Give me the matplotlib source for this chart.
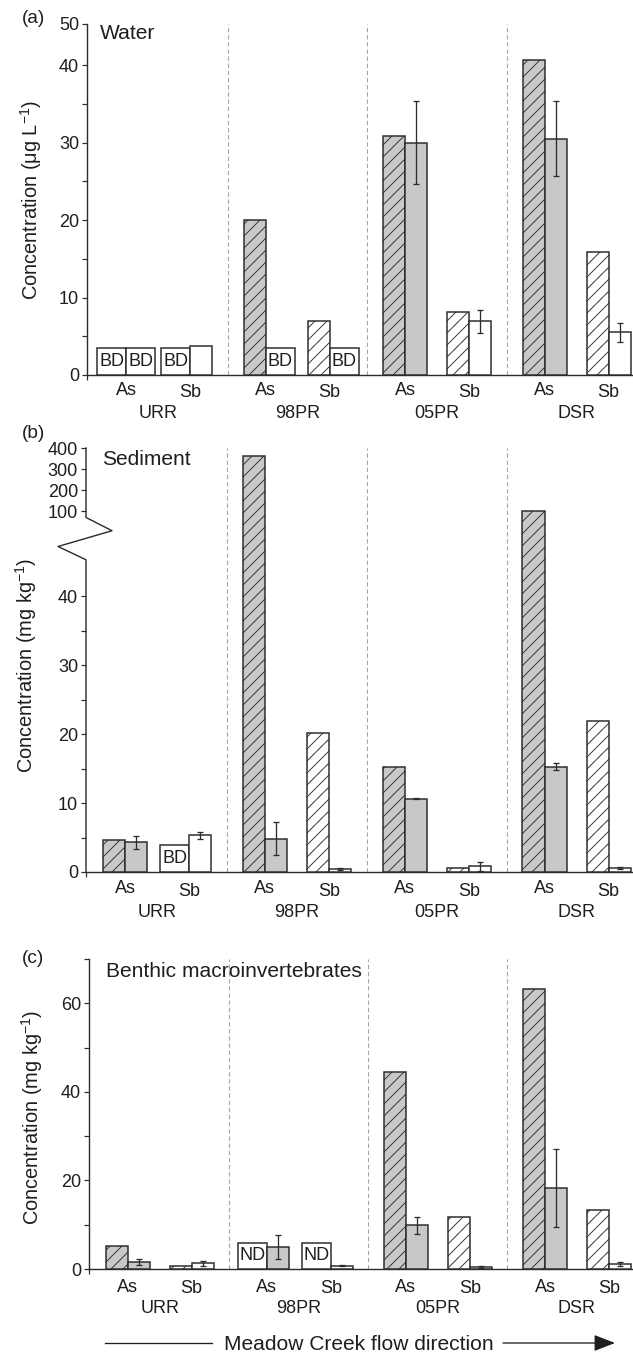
import numpy as np
import matplotlib
matplotlib.use('Agg')
import matplotlib.pyplot as plt
from matplotlib.transforms import offset_copy, blended_transform_factory
from matplotlib.patches import FancyArrowPatch
from matplotlib.lines import Line2D
from matplotlib.ticker import FixedLocator, FixedFormatter

plt.rcParams['font.family'] = ['Liberation Sans', 'DejaVu Sans']
plt.rcParams['mathtext.fontset'] = 'custom'
plt.rcParams['mathtext.rm'] = 'Liberation Sans'
plt.rcParams['mathtext.it'] = 'Liberation Sans:italic'
plt.rcParams['mathtext.bf'] = 'Liberation Sans:bold'
plt.rcParams['hatch.linewidth'] = 0.9
plt.rcParams['hatch.color'] = '#333333'

# ---------------- data ----------------
sites = ['URR', '98PR', '05PR', 'DSR']
elements = ['As', 'Sb']
# order within each list: URR-As, URR-Sb, 98PR-As, 98PR-Sb, 05PR-As, 05PR-Sb, DSR-As, DSR-Sb

water_hatched = [3.45, 3.45, 20.0, 7.0, 30.9, 8.1, 40.6, 15.9]
water_hatched_flag = ['BD', 'BD', '', '', '', '', '', '']
water_solid = [3.45, 3.8, 3.45, 3.45, 30.0, 6.95, 30.5, 5.5]
water_solid_err = [0, 0, 0, 0, 5.3, 1.5, 4.8, 1.2]
water_solid_flag = ['BD', '', 'BD', 'BD', '', '', '', '']

sed_hatched = [4.6, 3.9, 360.0, 20.2, 15.3, 0.58, 103.0, 21.9]
sed_hatched_flag = ['', 'BD', '', '', '', '', '', '']
sed_solid = [4.3, 5.3, 4.8, 0.45, 10.6, 0.8, 15.3, 0.58]
sed_solid_err = [0.95, 0.5, 2.4, 0.12, 0.08, 0.6, 0.45, 0.18]
sed_solid_flag = ['', '', '', '', '', '', '', '']

ben_hatched = [5.1, 0.75, 5.9, 5.9, 44.5, 11.8, 63.2, 13.4]
ben_hatched_flag = ['', '', 'ND', 'ND', '', '', '', '']
ben_solid = [1.6, 1.3, 5.0, 0.75, 9.9, 0.45, 18.2, 1.1]
ben_solid_err = [0.7, 0.55, 2.75, 0.15, 1.9, 0.15, 8.8, 0.5]
ben_solid_flag = ['', '', '', '', '', '', '', '']

water_ticks = [0, 10, 20, 30, 40, 45.3]
water_ticklabels = ['0', '10', '20', '30', '40', '50']
water_minor = [5, 15, 25, 35]
sed_ticks = [0, 10, 20, 30, 40, 100, 200, 300, 400]
sed_ticklabels = ['0', '10', '20', '30', '40', '100', '200', '300', '400']
sed_minor = [5, 15, 25, 35]
ben_ticks = [0, 20, 40, 60]
ben_ticklabels = ['0', '20', '40', '60']
ben_minor = [10, 30, 50, 70]

# ---------------- style ----------------
W, H, DPI = 633, 1354, 72
GRAY = '#c7c8ca'
EDGE = '#2b2b2b'
TXT = '#1e1e1e'
site_step = 2.18
bar_w = 0.344
box_w = 0.453
XLIM = (-0.61, 7.92)

fig = plt.figure(figsize=(W / DPI, H / DPI), dpi=DPI)


def add_axes_px(left, top, right, bottom):
    return fig.add_axes([left / W, 1 - bottom / H, (right - left) / W, (bottom - top) / H])


def draw_panel(ax, hatched, hflag, solid, serr, sflag, ticks, ticklabels, minor,
               lab_off, flagsize=18):
    as_pos = np.arange(len(sites)) * site_step
    pos = np.ravel(np.column_stack([as_pos, as_pos + 1.0]))
    for k, x in enumerate(pos):
        fill = GRAY if elements[k % 2] == 'As' else 'white'
        # first (hatched) bar, left of position
        if hflag[k]:
            ax.bar(x, hatched[k], width=-box_w, align='edge', color='white',
                   edgecolor=EDGE, lw=1.5, zorder=3)
            ax.text(x - box_w / 2, hatched[k] / 2, hflag[k], ha='center', va='center',
                    fontsize=flagsize, color=TXT, zorder=4)
        else:
            ax.bar(x, hatched[k], width=-bar_w, align='edge', color=fill,
                   edgecolor=EDGE, lw=1.5, hatch='//', zorder=3)
        # second (solid) bar, right of position
        if sflag[k]:
            ax.bar(x, solid[k], width=box_w, align='edge', color='white',
                   edgecolor=EDGE, lw=1.5, zorder=3)
            ax.text(x + box_w / 2, solid[k] / 2, sflag[k], ha='center', va='center',
                    fontsize=flagsize, color=TXT, zorder=4)
        else:
            ax.bar(x, solid[k], width=bar_w, align='edge', color=fill,
                   edgecolor=EDGE, lw=1.5, zorder=3)
            if serr[k] > 0:
                ax.errorbar(x + bar_w / 2, solid[k], yerr=serr[k], fmt='none',
                            ecolor=EDGE, elinewidth=1.3, capsize=3.2, capthick=1.3, zorder=5)
    # dashed separators
    for i in range(len(sites) - 1):
        ax.axvline(as_pos[i] + 1 + (site_step - 1) / 2, color='#a6a6a6', lw=1.1,
                   dashes=(4, 2.5), zorder=1)
    ax.set_xlim(*XLIM)
    for s in ['top', 'right']:
        ax.spines[s].set_visible(False)
    for s in ['left', 'bottom']:
        ax.spines[s].set_color(EDGE)
        ax.spines[s].set_linewidth(1.4)
    ax.yaxis.set_major_locator(FixedLocator(ticks))
    ax.yaxis.set_major_formatter(FixedFormatter(ticklabels))
    ax.yaxis.set_minor_locator(FixedLocator(minor))
    ax.tick_params(axis='y', which='both', direction='out', length=5, width=1.2,
                   color=EDGE, labelsize=18, labelcolor=TXT, pad=3)
    ax.set_xticks([XLIM[0]])
    ax.set_xticklabels([''])
    ax.tick_params(axis='x', which='both', direction='out', length=5, width=1.2, color=EDGE)
    # category labels
    trans = blended_transform_factory(ax.transData, ax.transAxes)
    t_as = offset_copy(trans, fig=fig, x=0, y=-lab_off[0], units='dots')
    t_sb = offset_copy(trans, fig=fig, x=0, y=-lab_off[1], units='dots')
    t_site = offset_copy(trans, fig=fig, x=0, y=-lab_off[2], units='dots')
    for i, s in enumerate(sites):
        ax.text(as_pos[i], 0, elements[0], transform=t_as, ha='center', va='baseline',
                fontsize=18, color=TXT)
        ax.text(as_pos[i] + 1, 0, elements[1], transform=t_sb, ha='center', va='baseline',
                fontsize=18, color=TXT)
        ax.text(as_pos[i] + 0.5, 0, s, transform=t_site, ha='center', va='baseline',
                fontsize=18, color=TXT)


# ---- panel (a) ----
axa = add_axes_px(87, 24, 633, 375)
axa.set_ylim(0, 45.3)
draw_panel(axa, water_hatched, water_hatched_flag, water_solid, water_solid_err,
           water_solid_flag, water_ticks, water_ticklabels, water_minor, (20, 22, 43))

# ---- panel (b) with broken axis via function scale ----
bk_in = [0.0, 45.3, 71.6, 400.0]
bk_out = [0.0, 312.0, 354.3, 423.7]
lo_slope = bk_out[1] / bk_in[1]
hi_slope = (bk_out[3] - bk_out[2]) / (bk_in[3] - bk_in[2])


def fwd(v):
    v = np.asarray(v, dtype=float)
    out = np.interp(v, bk_in, bk_out)
    out = np.where(v < 0, v * lo_slope, out)
    out = np.where(v > bk_in[-1], bk_out[-1] + (v - bk_in[-1]) * hi_slope, out)
    return out


def inv(u):
    u = np.asarray(u, dtype=float)
    out = np.interp(u, bk_out, bk_in)
    out = np.where(u < 0, u / lo_slope, out)
    out = np.where(u > bk_out[-1], bk_in[-1] + (u - bk_out[-1]) / hi_slope, out)
    return out


axb = add_axes_px(86, 448, 633, 872)
axb.set_yscale('function', functions=(fwd, inv))
axb.set_ylim(0, 400)
draw_panel(axb, sed_hatched, sed_hatched_flag, sed_solid, sed_solid_err,
           sed_solid_flag, sed_ticks, sed_ticklabels, sed_minor, (21, 24, 45))
axb.spines['left'].set_visible(False)
top_u = float(fwd(400))
y_lo = float(fwd(bk_in[1])) / top_u
y_hi = float(fwd(bk_in[2])) / top_u
axw = 547.0
zig_x = [0, 0, -28 / axw, 26 / axw, 0, 0]
zig_y = [0, y_lo, y_lo + 13.3 / 424, y_hi - 13.3 / 424, y_hi, 1.0]
axb.add_line(Line2D(zig_x, zig_y, transform=axb.transAxes, color=EDGE, lw=1.4,
                    clip_on=False, zorder=6))

# ---- panel (c) ----
axc = add_axes_px(89, 959, 633, 1269)
axc.set_ylim(0, 70)
draw_panel(axc, ben_hatched, ben_hatched_flag, ben_solid, ben_solid_err,
           ben_solid_flag, ben_ticks, ben_ticklabels, ben_minor, (23, 24, 44))

# ---- text ----
def ftext(x, y, s, **kw):
    kw.setdefault('color', TXT)
    return fig.text(x / W, 1 - y / H, s, **kw)

ftext(22, 23, '(a)', fontsize=19, va='baseline')
ftext(22, 438, '(b)', fontsize=19, va='baseline')
ftext(22, 963, '(c)', fontsize=19, va='baseline')
ftext(100, 39, 'Water', fontsize=21, va='baseline')
ftext(102, 465, 'Sediment', fontsize=21, va='baseline')
ftext(106, 977, 'Benthic macroinvertebrates', fontsize=21, va='baseline')
ftext(31, 200, r'Concentration (μg L$^{-1}$)', fontsize=20, rotation=90, ha='center', va='center')
ftext(26, 665, r'Concentration (mg kg$^{-1}$)', fontsize=20, rotation=90, ha='center', va='center')
ftext(32, 1117, r'Concentration (mg kg$^{-1}$)', fontsize=20, rotation=90, ha='center', va='center')

# flow direction
ftext(358.5, 1350, 'Meadow Creek flow direction', fontsize=21, ha='center', va='baseline')
fig.add_artist(Line2D([105 / W, 212 / W], [1 - 1343 / H, 1 - 1343 / H],
                      transform=fig.transFigure, color=TXT, lw=1.3))
fig.add_artist(FancyArrowPatch((503 / W, 1 - 1343 / H), (615 / W, 1 - 1343 / H),
                               transform=fig.transFigure, arrowstyle='-|>,head_length=1.8,head_width=0.7',
                               mutation_scale=10, color=TXT, lw=1.3, shrinkA=0, shrinkB=0))

fig.savefig('out.png', dpi=DPI)
